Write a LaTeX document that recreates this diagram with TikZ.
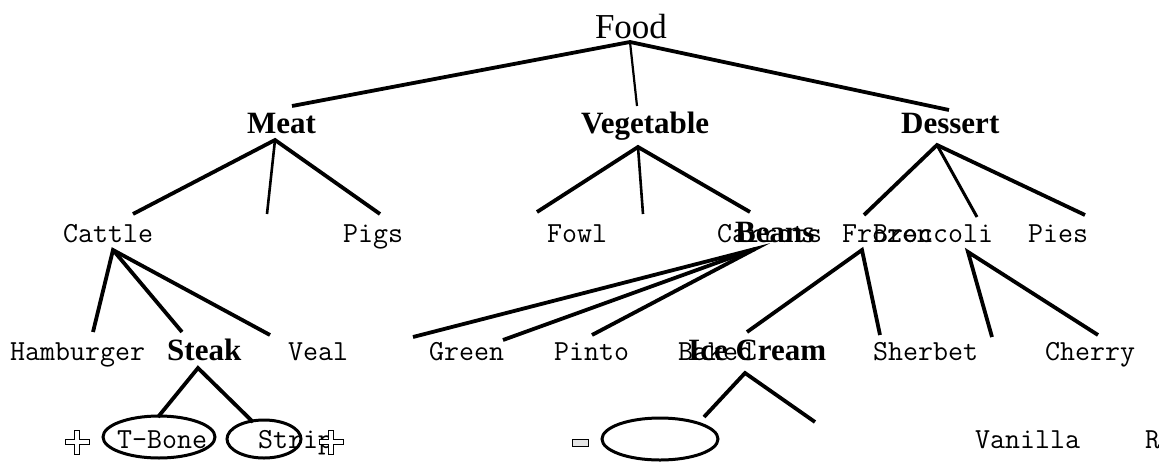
\documentclass[tikz,border=0pt]{standalone}
\usepackage{fontspec}
\setmainfont{Liberation Serif}
\tikzset{
  mono/.style={font=\fontsize{29.1}{29.1}\selectfont\ttfamily, anchor=base west, inner sep=0pt},
  boldlbl/.style={font=\fontsize{31}{31}\selectfont\bfseries, anchor=base west, inner sep=0pt},
  rootlbl/.style={font=\fontsize{35}{35}\selectfont, anchor=base, inner sep=0pt},
  edge/.style={line width=3.8pt},
  oval/.style={line width=3pt},
  plusglyph/.style={line width=0.8pt, fill=white},
  minusglyph/.style={line width=0.8pt, fill=gray!20}
}
\begin{document}
\begin{tikzpicture}[x=1pt,y=-1pt]
\useasboundingbox (0,0) rectangle (1159,461);
% text nodes
\node[rootlbl] (food) at (631,38) {Food};
\node[boldlbl] (meat) at (247,133) {Meat};
\node[boldlbl] (veg) at (581,133) {Vegetable};
\node[boldlbl] (dessert) at (901,133) {Dessert};
\node[mono] (cattle) at (63,242) {Cattle};
\node[mono] (pigs) at (343,242) {Pigs};
\node[mono] (fowl) at (547,242) {Fowl};
\node[mono] (carrots) at (717,242) {Carrots};
\node[mono] (frozen) at (842,242) {Frozen};
\node[mono] (broccoli) at (873,242) {Broccoli};
\node[mono] (pies) at (1028,242) {Pies};
\node[boldlbl] (beans) at (735,242) {Beans};
\node[mono] (hamburger) at (10,360) {Hamburger};
\node[boldlbl] (steak) at (167,360) {Steak};
\node[mono] (veal) at (288,360) {Veal};
\node[mono] (green) at (429,360) {Green};
\node[mono] (pinto) at (554,360) {Pinto};
\node[mono] (baked) at (678,360) {Baked};
\node[boldlbl] (icecream) at (688,360) {Ice Cream};
\node[mono] (sherbet) at (873,360) {Sherbet};
\node[mono] (cherry) at (1045,360) {Cherry};
% ovals
\draw[oval] (159,437) ellipse [x radius=56, y radius=21];
\draw[oval] (264,439) ellipse [x radius=37, y radius=19];
\draw[oval] (660,439) ellipse [x radius=58, y radius=21];
\node[mono] (tbone) at (117,448) {T-Bone};
\node[mono] (strip) at (258,448) {Strip};
\node[mono] (vanilla) at (975,448) {Vanilla};
\node[mono] (r) at (1145,448) {R};
% plus / minus glyphs
\foreach \cx/\cy in {77/442, 331/442}{
  \draw[plusglyph] (\cx-2.5,\cy-12) -- (\cx+2.5,\cy-12) -- (\cx+2.5,\cy-2.5) -- (\cx+12,\cy-2.5)
    -- (\cx+12,\cy+2.5) -- (\cx+2.5,\cy+2.5) -- (\cx+2.5,\cy+12) -- (\cx-2.5,\cy+12)
    -- (\cx-2.5,\cy+2.5) -- (\cx-12,\cy+2.5) -- (\cx-12,\cy-2.5) -- (\cx-2.5,\cy-2.5) -- cycle;
}
\draw[minusglyph] (572,439) rectangle (588,446);
% connector coordinates
\coordinate (fA) at (630,42);
\coordinate (f1) at (292,106);
\coordinate (f2) at (637,106);
\coordinate (f3) at (949,110);
\coordinate (mA) at (275,140);
\coordinate (m1) at (133,214);
\coordinate (m2) at (267,214);
\coordinate (m3) at (380,214);
\coordinate (vA) at (638,147);
\coordinate (v1) at (537,212);
\coordinate (v2) at (643,214);
\coordinate (v3) at (750,212);
\coordinate (dA) at (937,145);
\coordinate (d1) at (864,215);
\coordinate (d2) at (977,217);
\coordinate (d3) at (1085,215);
\coordinate (cA) at (113,250);
\coordinate (c1) at (93,332);
\coordinate (c2) at (182,332);
\coordinate (c3) at (270,335);
\coordinate (bA) at (755,249);
\coordinate (b1) at (413,337);
\coordinate (b2) at (503,340);
\coordinate (b3) at (592,335);
\coordinate (zA) at (862,250);
\coordinate (z1) at (747,332);
\coordinate (z2) at (880,335);
\coordinate (rA) at (968,252);
\coordinate (r1) at (992,337);
\coordinate (r2) at (1098,335);
\coordinate (sA) at (198,368);
\coordinate (s1) at (158,417);
\coordinate (s2) at (253,422);
\coordinate (iA) at (745,373);
\coordinate (i1) at (704,417);
\coordinate (i2) at (815,422);
% connectors
\draw[edge] (f1) -- (fA) -- (f3);
\draw[edge, line width=2.2pt] (fA) -- (f2);
\draw[edge] (m1) -- (mA) -- (m3);
\draw[edge, line width=2.6pt] (mA) -- (m2);
\draw[edge] (v1) -- (vA) -- (v3);
\draw[edge, line width=2.6pt] (vA) -- (v2);
\draw[edge] (d1) -- (dA) -- (d3);
\draw[edge, line width=3pt] (dA) -- (d2);
\draw[edge] (c1) -- (cA) -- (c3);
\draw[edge] (cA) -- (c2);
\draw[edge] (b1) -- (bA) -- (b3);
\draw[edge] (bA) -- (b2);
\draw[edge] (z1) -- (zA) -- (z2);
\draw[edge] (r1) -- (rA) -- (r2);
\draw[edge] (s1) -- (sA) -- (s2);
\draw[edge] (i1) -- (iA) -- (i2);
\end{tikzpicture}
\end{document}
